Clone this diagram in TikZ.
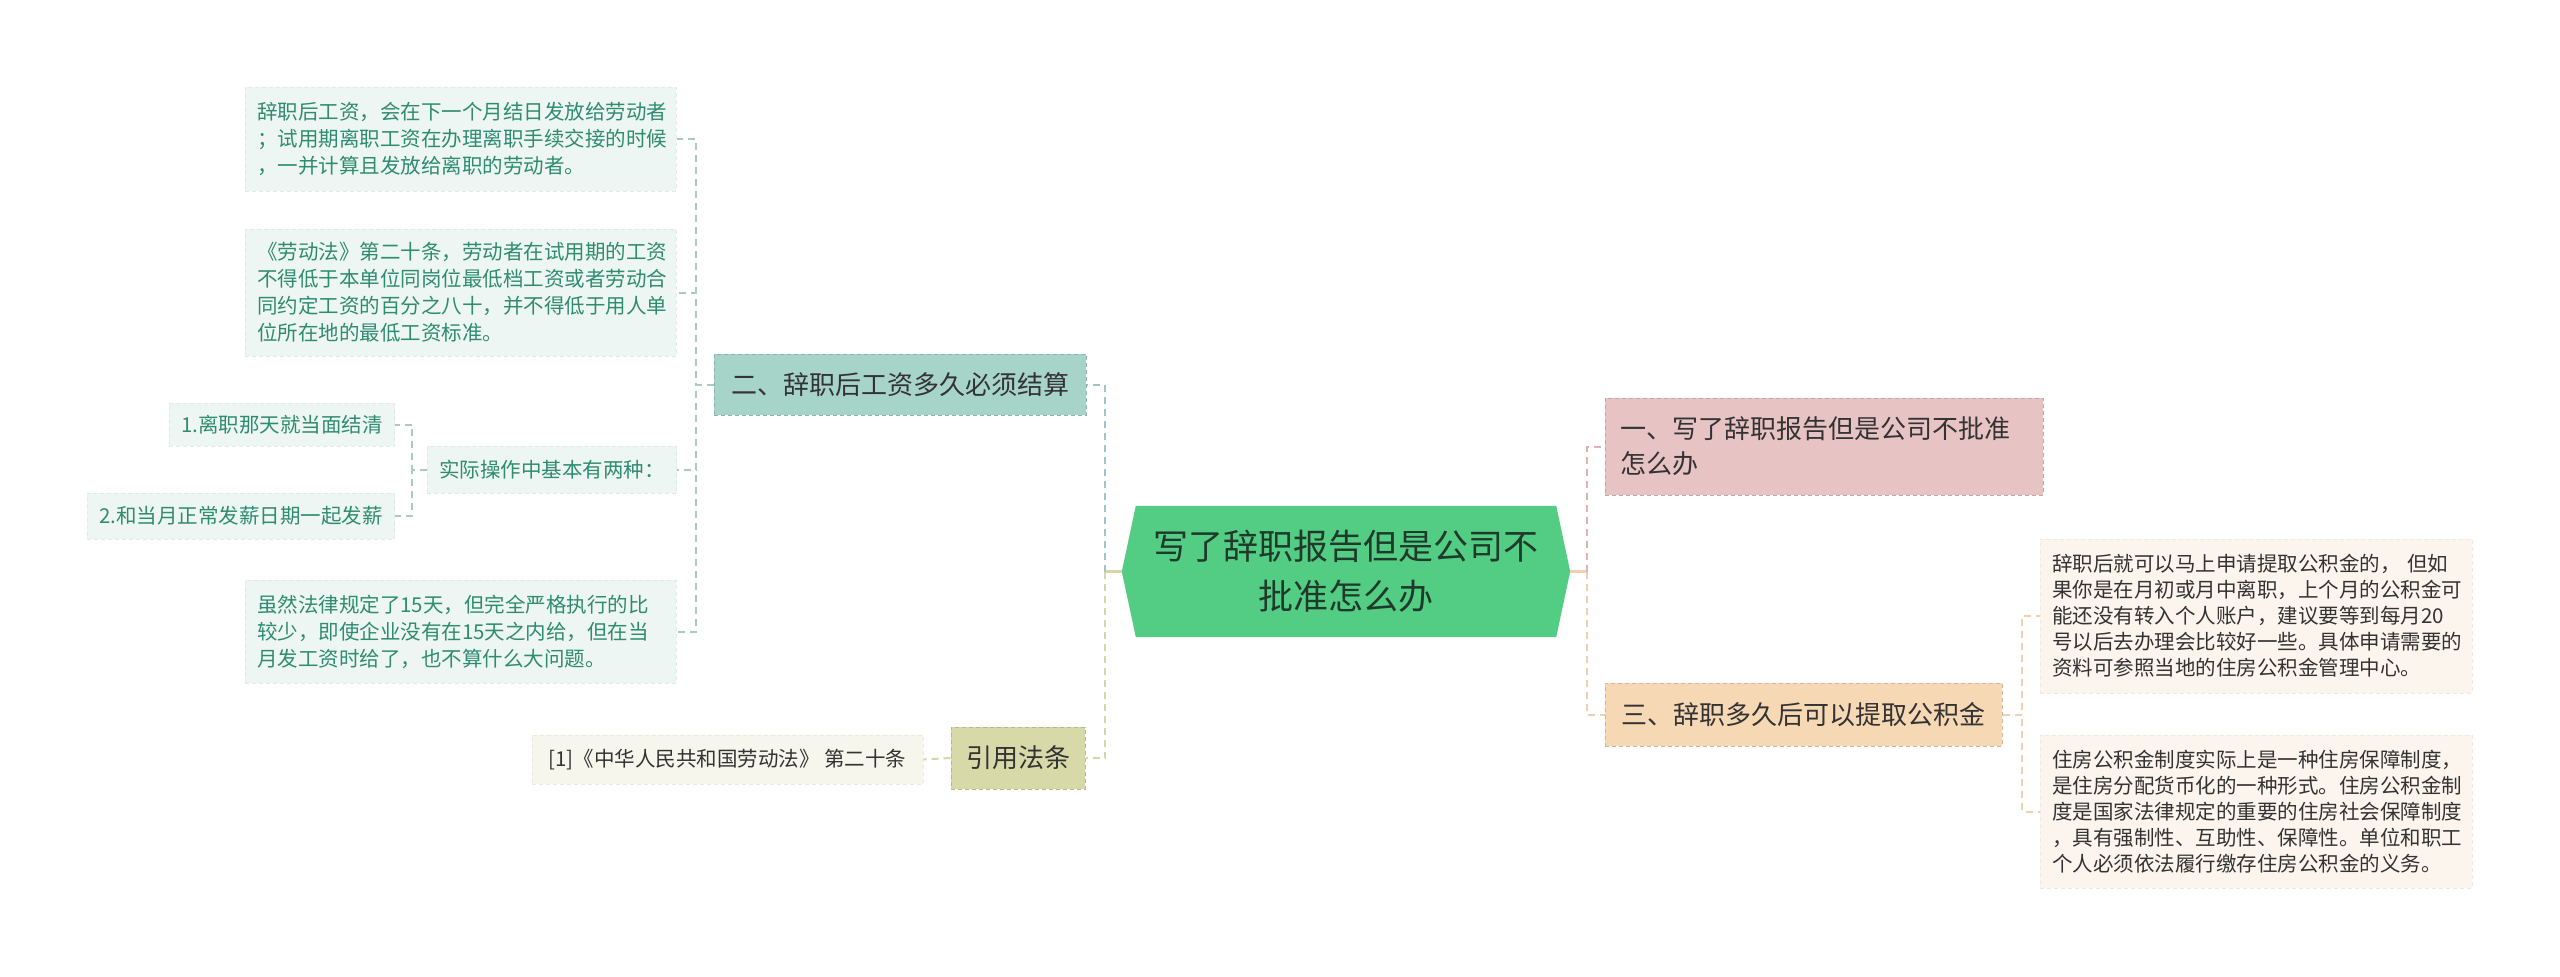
\documentclass[tikz,border=0pt]{standalone}
\usepackage{fontspec}
\setmainfont{Noto Sans CJK SC}
\usetikzlibrary{positioning,calc,backgrounds}

\definecolor{rootgreen}{HTML}{53CC84}
\definecolor{rootink}{HTML}{1F3A2B}
\definecolor{payteal}{HTML}{A7D4C9}
\definecolor{citeolive}{HTML}{D7D9A8}
\definecolor{refusepink}{HTML}{E8C3C3}
\definecolor{fundpeach}{HTML}{F6D8B5}
\definecolor{leafmint}{HTML}{EEF6F3}
\definecolor{leafink}{HTML}{2E8C6F}
\definecolor{citecream}{HTML}{F6F6EC}
\definecolor{warmcream}{HTML}{FCF5EE}
\definecolor{inkdark}{HTML}{333333}
\definecolor{bluelink}{HTML}{A0C3C8}
\definecolor{olivelink}{HTML}{D6D6A6}
\definecolor{pinklink}{HTML}{DDB4B4}
\definecolor{peachlink}{HTML}{F0D0B0}
\definecolor{greenlink}{HTML}{A9CBC2}

\begin{document}
\begin{tikzpicture}[
    x=1pt, y=-1pt,
    every node/.style = {inner sep=0pt},
    rootbox/.style = {
        rectangle,
        align=center,
        minimum width=448pt,
        minimum height=131pt,
        text=rootink,
        font=\fontsize{35}{50}\selectfont
    },
    branch/.style = {
        rectangle,
        fill=#1,
        draw=#1!85!black,
        dash pattern=on 4pt off 3pt,
        line width=1pt,
        align=left,
        inner xsep=15pt,
        text=inkdark,
        font=\fontsize{26}{35}\selectfont
    },
    leaf/.style = {
        rectangle,
        fill=#1,
        draw=#1!95!black,
        dash pattern=on 4pt off 3pt,
        line width=1pt,
        align=left,
        inner xsep=12pt,
        font=\fontsize{20.5}{27}\selectfont
    },
    greenleaf/.style = {leaf=leafmint, text=leafink},
    warmleaf/.style = {leaf=#1, text=inkdark, font=\fontsize{20.5}{26}\selectfont},
    link/.style = {draw=#1, line width=2pt, dash pattern=on 7pt off 5pt},
    stem/.style = {draw=#1, line width=2.5pt}
]
\useasboundingbox (0,0) rectangle (2560,977);

% centre
\node[rootbox] (root) at (1346,571.5) {写了辞职报告但是公司不\\批准怎么办};
\begin{scope}[on background layer]
\fill[white] (0,0) rectangle (2560,977);
\fill[rootgreen] (root.west) -- ($(root.north west)+(14,0)$) -- ($(root.north east)+(-14,0)$)
    -- (root.east) -- ($(root.south east)+(-14,0)$) -- ($(root.south west)+(14,0)$) -- cycle;
\end{scope}

% left side
\node[branch=payteal, minimum width=372pt, minimum height=61pt] (pay) at (900,384.5) {二、辞职后工资多久必须结算};
\node[branch=citeolive, minimum width=132pt, minimum height=62pt] (cite) at (1018,758) {引用法条};

\node[greenleaf, text width=407pt, minimum height=104pt] (lA) at (460.5,139) {辞职后工资，会在下一个月结日发放给劳动者\\；试用期离职工资在办理离职手续交接的时候\\，一并计算且发放给离职的劳动者。};
\node[greenleaf, text width=407pt, minimum height=127pt] (lB) at (460.5,292.5) {《劳动法》第二十条，劳动者在试用期的工资\\不得低于本单位同岗位最低档工资或者劳动合\\同约定工资的百分之八十，并不得低于用人单\\位所在地的最低工资标准。};
\node[greenleaf, minimum width=248pt, minimum height=47pt] (ops) at (552,469.5) {实际操作中基本有两种：};
\node[greenleaf, minimum width=224pt, minimum height=43pt] (opA) at (282,424.5) {1.离职那天就当面结清};
\node[greenleaf, minimum width=306pt, minimum height=46pt] (opB) at (241,516) {2.和当月正常发薪日期一起发薪};
\node[greenleaf, text width=407pt, minimum height=103pt] (lE) at (460.5,631.5) {虽然法律规定了15天，但完全严格执行的比\\较少，即使企业没有在15天之内给，但在当\\月发工资时给了，也不算什么大问题。};
\node[warmleaf=citecream, minimum width=391pt, minimum height=49pt] (law) at (727.5,759.5) {[1]《中华人民共和国劳动法》 第二十条};

% right side
\node[branch=refusepink, text width=408pt, minimum height=97pt] (refuse) at (1824,446.5) {一、写了辞职报告但是公司不批准\\怎么办};
\node[branch=fundpeach, minimum width=397pt, minimum height=63pt] (fund) at (1803.5,714.5) {三、辞职多久后可以提取公积金};

\node[warmleaf=warmcream, text width=408pt, minimum height=154pt] (fA) at (2256,616) {辞职后就可以马上申请提取公积金的， 但如\\果你是在月初或月中离职，上个月的公积金可\\能还没有转入个人账户，建议要等到每月20\\号以后去办理会比较好一些。具体申请需要的\\资料可参照当地的住房公积金管理中心。};
\node[warmleaf=warmcream, text width=408pt, minimum height=153pt] (fB) at (2256,811.5) {住房公积金制度实际上是一种住房保障制度，\\是住房分配货币化的一种形式。住房公积金制\\度是国家法律规定的重要的住房社会保障制度\\，具有强制性、互助性、保障性。单位和职工\\个人必须依法履行缴存住房公积金的义务。};

% connectors
\coordinate (jL) at (1105,571.5);
\coordinate (jR) at (1587,571.5);
\coordinate (jPay) at (696,384.5);
\coordinate (jOps) at (412,469.5);
\coordinate (jFund) at (2022,714.5);

\draw[stem=olivelink] (root.west) -- (jL);
\draw[link=bluelink] (jL) |- (pay.east);
\draw[link=olivelink] (jL) |- (cite.east);
\draw[stem=peachlink] (root.east) -- (jR);
\draw[link=pinklink] (jR) |- (refuse.west);
\draw[link=peachlink] (jR) |- (fund.west);

\foreach \leaf in {lA,lB,ops,lE}
    \draw[link=greenlink] (pay.west) -- (jPay) |- (\leaf.east);
\foreach \leaf in {opA,opB}
    \draw[link=greenlink] (ops.west) -- (jOps) |- (\leaf.east);
\draw[link=olivelink] (cite.west) -- (law.east);
\foreach \leaf in {fA,fB}
    \draw[link=peachlink] (fund.east) -- (jFund) |- (\leaf.west);

\end{tikzpicture}
\end{document}
